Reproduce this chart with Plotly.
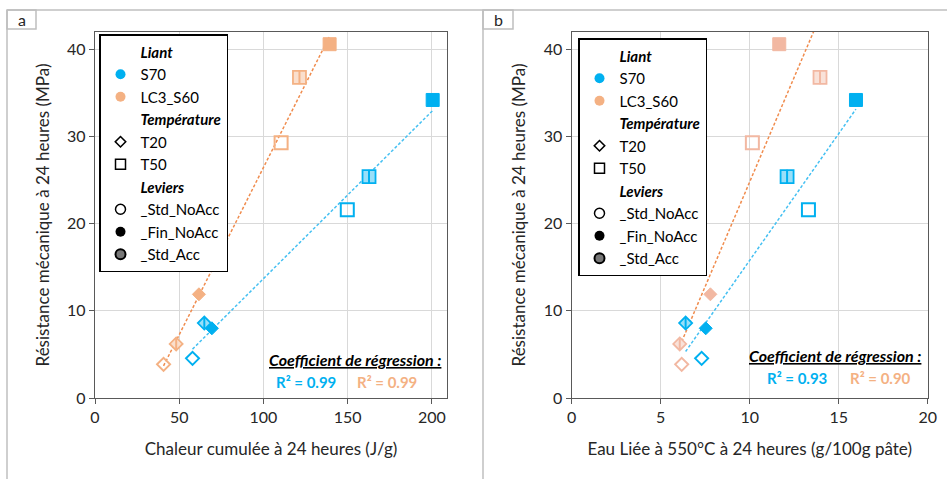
import numpy as np
import plotly.graph_objects as go

W, H = 947, 479

# ---------------- data ----------------
temps = ["T20", "T20", "T20", "T50", "T50", "T50"]
levers = ["_Std_NoAcc", "_Fin_NoAcc", "_Std_Acc", "_Std_NoAcc", "_Fin_NoAcc", "_Std_Acc"]

heat_S70 = [57.9, 69.4, 64.9, 149.8, 200.5, 162.7]
heat_LC3 = [40.7, 61.7, 48.2, 110.5, 139.3, 121.4]
water_S70 = [7.3, 7.53, 6.4, 13.3, 15.97, 12.1]
water_LC3 = [6.18, 7.79, 6.07, 10.15, 11.66, 13.95]
strength_S70 = [4.55, 8.0, 8.6, 21.6, 34.2, 25.4]
strength_LC3 = [3.86, 11.9, 6.2, 29.3, 40.6, 36.8]

r2_a = ["R² = 0.99", "R² = 0.99"]
r2_b = ["R² = 0.93", "R² = 0.90"]

x_titles = ["Chaleur cumulée à 24 heures (J/g)", "Eau Liée à 550°C à 24 heures (g/100g pâte)"]
y_title = "Résistance mécanique à 24 heures (MPa)"
panel_labels = ["a", "b"]

BLUE = "#00B0F0"
ORANGE_A = "#F4B183"
ORANGE_B = "#F2B8A2"
BLUE_TREND = "#45C0F2"
ORANGE_TREND = "#F08C4E"
FONT = "Lato"


def px(x):
    return x / W


def py(y):
    return 1 - y / H


def tint(hex_color, f=0.55):
    h = hex_color.lstrip("#")
    r, g, b = (int(h[i:i + 2], 16) for i in (0, 2, 4))
    r = int(r + (255 - r) * f)
    g = int(g + (255 - g) * f)
    b = int(b + (255 - b) * f)
    return f"rgb({r},{g},{b})"


fig = go.Figure()


def add_series(xs, ys, color, xa, ya):
    for x, y, t, lv in zip(xs, ys, temps, levers):
        base = "diamond" if t == "T20" else "square"
        size = 10 if t == "T20" else 13
        if lv == "_Std_NoAcc":
            fig.add_trace(go.Scatter(x=[x], y=[y], mode="markers", xaxis=xa, yaxis=ya, showlegend=False,
                                     marker=dict(symbol=base + "-open", size=size, color=color,
                                                 line=dict(width=2, color=color))))
        elif lv == "_Fin_NoAcc":
            fig.add_trace(go.Scatter(x=[x], y=[y], mode="markers", xaxis=xa, yaxis=ya, showlegend=False,
                                     marker=dict(symbol=base, size=size, color=color,
                                                 line=dict(width=1, color=color))))
        else:
            fig.add_trace(go.Scatter(x=[x], y=[y], mode="markers", xaxis=xa, yaxis=ya, showlegend=False,
                                     marker=dict(symbol=base, size=size, color=tint(color, 0.6),
                                                 line=dict(width=1.8, color=color))))
            fig.add_trace(go.Scatter(x=[x], y=[y], mode="markers", xaxis=xa, yaxis=ya, showlegend=False,
                                     marker=dict(symbol="line-ns-open", size=size * 0.75, color=color,
                                                 line=dict(width=2, color=color))))


def add_trend(xs, ys, color, xa, ya):
    xs = np.array(xs)
    ys = np.array(ys)
    k, b = np.polyfit(xs, ys, 1)
    xl = np.array([xs.min(), xs.max()])
    fig.add_trace(go.Scatter(x=xl, y=k * xl + b, mode="lines", xaxis=xa, yaxis=ya, showlegend=False,
                             line=dict(color=color, width=1.5, dash="3px,2px")))


# panel a
add_trend(heat_LC3, strength_LC3, ORANGE_TREND, "x", "y")
add_trend(heat_S70, strength_S70, BLUE_TREND, "x", "y")
add_series(heat_S70, strength_S70, BLUE, "x", "y")
add_series(heat_LC3, strength_LC3, ORANGE_A, "x", "y")
# panel b
add_trend(water_LC3, strength_LC3, ORANGE_TREND, "x2", "y2")
add_trend(water_S70, strength_S70, BLUE_TREND, "x2", "y2")
add_series(water_S70, strength_S70, BLUE, "x2", "y2")
add_series(water_LC3, strength_LC3, ORANGE_B, "x2", "y2")

# legend entries
legend_items = [
    ("<b><i>Liant</i></b>", dict(symbol="circle", size=10, color="rgba(0,0,0,0)", line=dict(width=0))),
    ("S70", dict(symbol="circle", size=10, color=BLUE, line=dict(width=0))),
    ("LC3_S60", dict(symbol="circle", size=10, color=ORANGE_A, line=dict(width=0))),
    ("<b><i>Température</i></b>", dict(symbol="circle", size=10, color="rgba(0,0,0,0)", line=dict(width=0))),
    ("T20", dict(symbol="diamond-open", size=8, color="black", line=dict(width=1.6, color="black"))),
    ("T50", dict(symbol="square-open", size=10, color="black", line=dict(width=1.5, color="black"))),
    ("<b><i>Leviers</i></b>", dict(symbol="circle", size=10, color="rgba(0,0,0,0)", line=dict(width=0))),
    ("_Std_NoAcc", dict(symbol="circle-open", size=10, color="black", line=dict(width=1.5, color="black"))),
    ("_Fin_NoAcc", dict(symbol="circle", size=10, color="black", line=dict(width=0))),
    ("_Std_Acc", dict(symbol="circle", size=10, color="#777777", line=dict(width=2, color="black"))),
]
for lg, xa, ya in (("legend", "x", "y"), ("legend2", "x2", "y2")):
    for name, mk in legend_items:
        fig.add_trace(go.Scatter(x=[None], y=[None], mode="markers", name=name, marker=mk,
                                 legend=lg, xaxis=xa, yaxis=ya, showlegend=True))

axis_common = dict(showline=True, mirror=True, linecolor="#595959", linewidth=1.3,
                   gridcolor="#D9D9D9", gridwidth=1, zeroline=False, automargin=False,
                   ticks="outside", ticklen=5, tickcolor="#595959",
                   tickfont=dict(family=FONT, size=16, color="#262626"),
                   title_font=dict(family=FONT, size=17, color="#262626"))

fig.update_layout(
    width=W, height=H, margin=dict(l=0, r=0, t=0, b=0, autoexpand=False),
    paper_bgcolor="white", plot_bgcolor="white",
    font=dict(family=FONT, color="black"),
    xaxis=dict(domain=[px(95), px(447)], range=[0, 209], dtick=50, anchor="y",
               title=dict(text=x_titles[0], standoff=17), **axis_common),
    yaxis=dict(domain=[py(398), py(32)], range=[0, 42], dtick=10, anchor="x",
               title=dict(text=y_title, standoff=13), **axis_common),
    xaxis2=dict(domain=[px(571.7), px(927.7)], range=[0, 20], dtick=5, anchor="y2",
                title=dict(text=x_titles[1], standoff=17), **axis_common),
    yaxis2=dict(domain=[py(398), py(32)], range=[0, 42], dtick=10, anchor="x2",
                title=dict(text=y_title, standoff=13), **axis_common),
    legend=dict(x=px(99), y=py(34), xanchor="left", yanchor="top", bgcolor="white",
                bordercolor="black", borderwidth=1.5, itemwidth=30, traceorder="normal",
                font=dict(family=FONT, size=15, color="black"), tracegroupgap=0),
    legend2=dict(x=px(578), y=py(38), xanchor="left", yanchor="top", bgcolor="white",
                 bordercolor="black", borderwidth=1.5, itemwidth=30, traceorder="normal",
                 font=dict(family=FONT, size=15, color="black"), tracegroupgap=0),
)

# frames and panel labels
GREY = "#BFBFBF"
shapes = [
    dict(type="line", x0=px(7), x1=px(947), y0=py(10), y1=py(10)),
    dict(type="line", x0=px(7), x1=px(7), y0=py(10), y1=py(479)),
    dict(type="line", x0=px(483), x1=px(483), y0=py(10), y1=py(479)),
    dict(type="rect", x0=px(7), x1=px(36), y0=py(29), y1=py(10)),
    dict(type="rect", x0=px(483), x1=px(513), y0=py(29), y1=py(10)),
]
for s in shapes:
    fig.add_shape(xref="paper", yref="paper", line=dict(color=GREY, width=1.5), **s)

for lab, cx in zip(panel_labels, (21.5, 498)):
    fig.add_annotation(xref="paper", yref="paper", x=px(cx), y=py(19.5), text=lab, showarrow=False,
                       font=dict(family=FONT, size=16, color="#262626"), xanchor="center", yanchor="middle")

# regression annotations
for (xr, yc, xb, xo, yr, texts) in ((443, 359, 305.5, 387, 381.7, r2_a), (923, 355.7, 796.7, 880.3, 377.7, r2_b)):
    fig.add_annotation(xref="paper", yref="paper", x=px(xr), y=py(yc), xanchor="right", yanchor="middle",
                       text="<b><i><u>Coefficient de régression :</u></i></b>", showarrow=False,
                       font=dict(family=FONT, size=16, color="black"))
    fig.add_annotation(xref="paper", yref="paper", x=px(xb), y=py(yr), xanchor="center", yanchor="middle",
                       text=f"<b>{texts[0]}</b>", showarrow=False,
                       font=dict(family=FONT, size=15, color=BLUE))
    fig.add_annotation(xref="paper", yref="paper", x=px(xo), y=py(yr), xanchor="center", yanchor="middle",
                       text=f"<b>{texts[1]}</b>", showarrow=False,
                       font=dict(family=FONT, size=15, color=ORANGE_A))

fig.write_html("out.html", post_script="document.body.style.margin='0';",
               config={"displayModeBar": False})
